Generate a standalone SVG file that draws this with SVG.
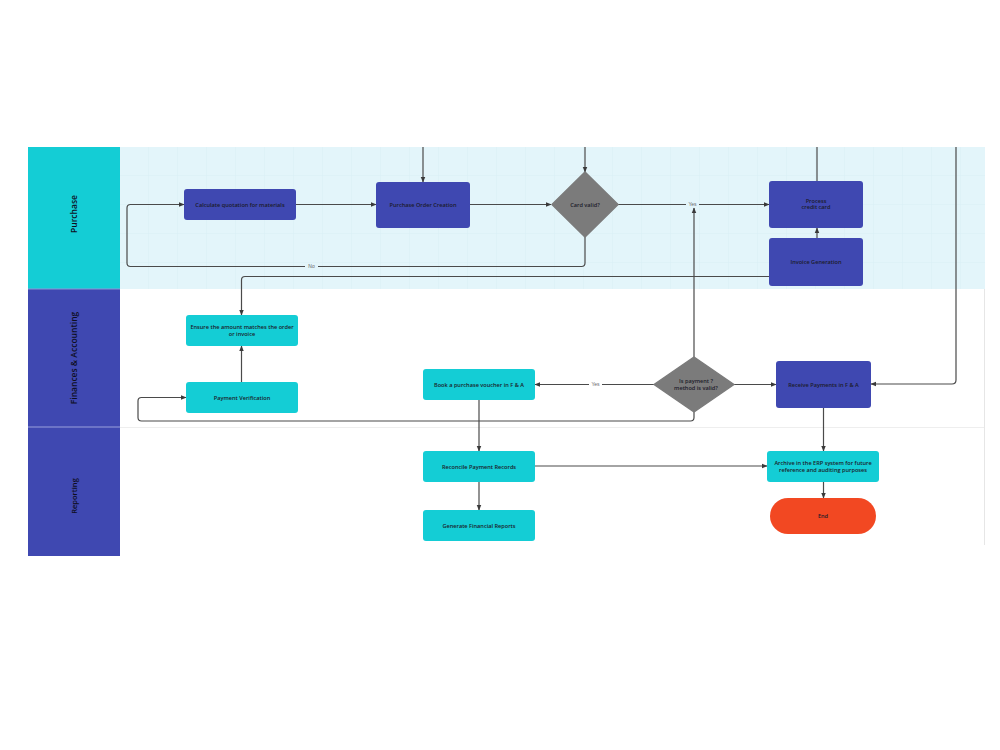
<svg xmlns="http://www.w3.org/2000/svg" width="1000" height="750" viewBox="0 0 1000 750">
<defs>
<pattern id="grid" x="120" y="147" width="29" height="29" patternUnits="userSpaceOnUse">
<path d="M29 0V29M0 29H29" fill="none" stroke="#d3ecf4" stroke-width="0.6"/>
</pattern>
<marker id="arr" viewBox="0 0 10 10" refX="9" refY="5" markerWidth="6" markerHeight="6" orient="auto-start-reverse" markerUnits="userSpaceOnUse">
<path d="M0 1L10 5L0 9z" fill="#3a3a3a"/>
</marker>
<style>
.ind{fill:#3f48b1}
.cyan{fill:#14cdd5}
.dia{fill:#7b7b7b}
.t{font-family:"Open Sans","Liberation Sans",sans-serif;font-size:5.6px;font-weight:600;fill:#1b1b2a;text-anchor:middle}
.lt{font-family:"Open Sans","Liberation Sans",sans-serif;fill:#0e0e1e;text-anchor:middle;font-weight:600}
.c{fill:none;stroke:#4a4a4a;stroke-width:1.2;stroke-linejoin:round}
.lbl{font-family:"Liberation Sans",sans-serif;font-size:5px;fill:#666;text-anchor:middle}
</style>
</defs>
<rect width="1000" height="750" fill="#ffffff"/>

<g id="lanes">
<rect x="120" y="147" width="865" height="142" fill="#e3f5fa"/>
<rect x="120" y="147" width="865" height="142" fill="url(#grid)"/>
<rect x="120" y="289" width="865" height="138" fill="#ffffff"/>
<rect x="120" y="427" width="865" height="129" fill="#ffffff"/>
<line x1="120" y1="427.5" x2="985" y2="427.5" stroke="#eeeeee" stroke-width="1"/>
<line x1="984.5" y1="289" x2="984.5" y2="545" stroke="#e6e6e6" stroke-width="1"/>
<rect x="28" y="147" width="92" height="142" fill="#14cdd5"/>
<rect x="28" y="289" width="92" height="138" fill="#3f48b1"/>
<rect x="28" y="427" width="92" height="129" fill="#3f48b1"/>
<line x1="28" y1="289" x2="120" y2="289" stroke="#8f94d6" stroke-width="1"/>
<line x1="28" y1="427" x2="120" y2="427" stroke="#9aa0dc" stroke-width="1"/>
<text class="lt" transform="translate(77,214) rotate(-90)" font-size="8.5" font-weight="700">Purchase</text>
<text class="lt" transform="translate(77,358) rotate(-90)" font-size="8.5">Finances &amp; Accounting</text>
<text class="lt" transform="translate(77,496) rotate(-90)" font-size="7.5">Reporting</text>
</g>

<g id="connectors">
<path class="c" d="M423 147V182" marker-end="url(#arr)"/>
<path class="c" d="M585 147V172" marker-end="url(#arr)"/>
<path class="c" d="M817 147V181"/>
<path class="c" d="M956 147V380Q956 384 952 384H871" marker-end="url(#arr)"/>
<path class="c" d="M296 204.5H376" marker-end="url(#arr)"/>
<path class="c" d="M470 204.5H551" marker-end="url(#arr)"/>
<path class="c" d="M618 204.5H769" marker-end="url(#arr)"/>
<path class="c" d="M585 237V263Q585 266.5 581.5 266.5H130.5Q127 266.5 127 263V208Q127 204.5 130.5 204.5H184" marker-end="url(#arr)"/>
<path class="c" d="M817 238V228" marker-end="url(#arr)"/>
<path class="c" d="M769 276.5H245Q241.5 276.5 241.5 280V315" marker-end="url(#arr)"/>
<path class="c" d="M241.5 382V346" marker-end="url(#arr)"/>
<path class="c" d="M694 412V417.5Q694 421 690.5 421H141.5Q138 421 138 417.5V401Q138 397.5 141.5 397.5H186" marker-end="url(#arr)"/>
<path class="c" d="M694 357V208" marker-end="url(#arr)"/>
<path class="c" d="M654 384.5H535" marker-end="url(#arr)"/>
<path class="c" d="M734 384.5H776" marker-end="url(#arr)"/>
<path class="c" d="M479 400V451" marker-end="url(#arr)"/>
<path class="c" d="M479 482V510" marker-end="url(#arr)"/>
<path class="c" d="M535 466H767" marker-end="url(#arr)"/>
<path class="c" d="M823.5 408V451" marker-end="url(#arr)"/>
<path class="c" d="M823.5 482V498" marker-end="url(#arr)"/>
<rect x="686" y="201.5" width="13" height="6" fill="#e3f5fa"/>
<text class="lbl" x="692.5" y="206.3">Yes</text>
<rect x="305" y="263.5" width="13" height="6" fill="#e3f5fa"/>
<text class="lbl" x="311.5" y="268.3">No</text>
<rect x="589" y="381.5" width="13" height="6" fill="#ffffff"/>
<text class="lbl" x="595.5" y="386.3">Yes</text>
</g>

<g id="nodes">
<g id="n-calc"><rect class="ind" x="184" y="189" width="112" height="31" rx="3"/><text class="t" x="240" y="206.5">Calculate quotation for materials</text></g>
<g id="n-po"><rect class="ind" x="376" y="182" width="94" height="46" rx="3"/><text class="t" x="423" y="206.5">Purchase Order Creation</text></g>
<g id="n-card"><path class="dia" d="M585 172L618 204.5L585 237L552 204.5Z" stroke="#7b7b7b" stroke-width="1.5" stroke-linejoin="round"/><text class="t" x="585" y="206.5">Card valid?</text></g>
<g id="n-process"><rect class="ind" x="769" y="181" width="94" height="47" rx="3"/><text class="t" x="816" y="202.5">Process</text><text class="t" x="816" y="209">credit card</text></g>
<g id="n-invoice"><rect class="ind" x="769" y="238" width="94" height="48" rx="3"/><text class="t" x="816" y="264">Invoice Generation</text></g>
<g id="n-ensure"><rect class="cyan" x="186" y="315" width="112" height="31" rx="3"/><text class="t" x="242" y="328.5">Ensure the amount matches the order</text><text class="t" x="242" y="336">or invoice</text></g>
<g id="n-verify"><rect class="cyan" x="186" y="382" width="112" height="31" rx="3"/><text class="t" x="242" y="399.5">Payment Verification</text></g>
<g id="n-book"><rect class="cyan" x="423" y="369" width="112" height="31" rx="3"/><text class="t" x="479" y="386.5">Book a purchase voucher in F &amp; A</text></g>
<g id="n-method"><path class="dia" d="M694 357L734 384.5L694 412L654 384.5Z" stroke="#7b7b7b" stroke-width="1.5" stroke-linejoin="round"/><text class="t" x="696" y="382.5">Is payment ?</text><text class="t" x="696" y="390">method is valid?</text></g>
<g id="n-receive"><rect class="ind" x="776" y="361" width="95" height="47" rx="3"/><text class="t" x="823.5" y="386.5">Receive Payments in F &amp; A</text></g>
<g id="n-reconcile"><rect class="cyan" x="423" y="451" width="112" height="31" rx="3"/><text class="t" x="479" y="468.5">Reconcile Payment Records</text></g>
<g id="n-generate"><rect class="cyan" x="423" y="510" width="112" height="31" rx="3"/><text class="t" x="479" y="527.5">Generate  Financial Reports</text></g>
<g id="n-archive"><rect class="cyan" x="767" y="451" width="112" height="31" rx="3"/><text class="t" x="823" y="464.5">Archive in the ERP system for future</text><text class="t" x="823" y="472">reference and auditing purposes</text></g>
<g id="n-end"><rect x="770" y="498" width="106" height="36" rx="18" fill="#f24822"/><text class="t" x="823" y="518.3" font-size="6.8">End</text></g>
</g>
</svg>
